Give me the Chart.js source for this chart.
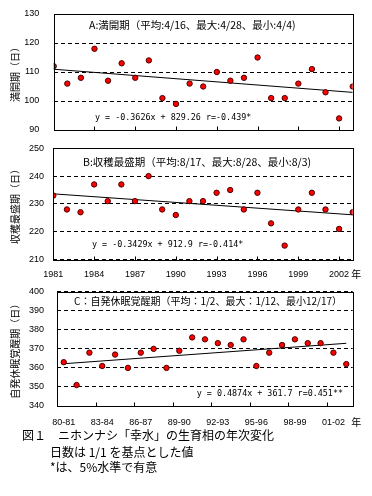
<!DOCTYPE html>
<html lang="ja">
<head>
<meta charset="utf-8">
<script src="https://cdn.jsdelivr.net/npm/chart.js@4.4.0/dist/chart.umd.min.js"></script>
<style>
    body { margin: 0; background: #fff; width: 372px; height: 496px; position: relative; overflow: hidden; }
    canvas { position: absolute; left: 0; }
    #chartA { top: 0; }
    #chartB { top: 140px; }
    #chartC { top: 282px; }
    .caption { position: absolute; font-family: "Noto Sans CJK JP", sans-serif; font-size: 12px; line-height: 16px; color: #000; white-space: nowrap; }
</style>
</head>
<body>
<canvas id="chartA" width="372" height="140"></canvas>
<canvas id="chartB" width="372" height="142"></canvas>
<canvas id="chartC" width="372" height="146"></canvas>
<div class="caption" style="left:22px; top:427px;">図１　ニホンナシ「幸水」の生育相の年次変化</div>
<div class="caption" style="left:50px; top:444px;">日数は 1/1 を基点とした値</div>
<div class="caption" style="left:50px; top:459px;">*は、5%水準で有意</div>
<script>
// ---- データ (1/1 を基点とした日数) ----
const years = [1981, 1982, 1983, 1984, 1985, 1986, 1987, 1988, 1989, 1990, 1991, 1992,
               1993, 1994, 1995, 1996, 1997, 1998, 1999, 2000, 2001, 2002, 2003];
const yearTicks = [1981, 1984, 1987, 1990, 1993, 1996, 1999, 2002];

// A: 満開期
const bloomDays = [112, 106, 108, 118, 107, 113, 108, 114, 101, 99, 106, 105,
                   110, 107, 108, 115, 101, 101, 106, 111, 103, 94, 105];
const bloomTicks = [90, 100, 110, 120, 130];
const bloomTrend = [-0.3626, 829.26];

// B: 収穫最盛期
const harvestDays = [233, 228, 227, 237, 231, 237, 231, 240, 228, 226, 231, 231,
                     234, 235, 228, 234, 223, 215, 228, 234, 228, 221, 227];
const harvestTicks = [210, 220, 230, 240, 250];
const harvestTrend = [-0.3429, 912.9];

// C: 自発休眠覚醒期
const seasons = ['80-81', '81-82', '82-83', '83-84', '84-85', '85-86', '86-87', '87-88',
                 '88-89', '89-90', '90-91', '91-92', '92-93', '93-94', '94-95', '95-96',
                 '96-97', '97-98', '98-99', '99-00', '00-01', '01-02', '02-03'];
const dormancyDays = [363, 351, 368, 361, 367, 360, 368, 370, 360, 369, 376, 375,
                      373, 372, 375, 361, 368, 372, 375, 373, 373, 368, 362];
const dormancyTicks = [340, 350, 360, 370, 380, 390, 400];
const dormancyTrend = [0.4874, 361.7];

const tickFont = { family: "'Liberation Sans', Arial, sans-serif", size: 9 };
const titleFont = { family: "'Noto Sans CJK JP', sans-serif", size: 10 };
const jpFont = "10px 'Noto Sans CJK JP', sans-serif";
const jpFontWide = "10.5px 'Noto Sans CJK JP', sans-serif";
const eqFont = "8.4px 'DejaVu Sans Mono', monospace";

// 枠線・内向き目盛・注記テキスト
const panelDecor = {
    id: 'panelDecor',
    afterDraw(chart, args, opts) {
        const { ctx, chartArea: a } = chart;
        const x = chart.scales.x;
        ctx.save();
        ctx.strokeStyle = '#000';
        ctx.lineWidth = 1;
        const l = Math.round(a.left) + 0.5, t = Math.round(a.top) + 0.5;
        const r = Math.round(a.right) + 0.5, b = Math.round(a.bottom) + 0.5;
        ctx.strokeRect(l, t, r - l, b - t);

        // 目盛（内向き）
        const marks = [];
        if (opts.marks === 'ticks') {
            x.ticks.forEach(tk => marks.push(x.getPixelForValue(tk.value)));
        } else if (opts.marks === 'between') {
            for (let i = 3; i < x.getLabels().length; i += 3) {
                marks.push((x.getPixelForValue(i - 1) + x.getPixelForValue(i)) / 2);
            }
        }
        ctx.beginPath();
        marks.forEach(px => {
            const p = Math.round(px) + 0.5;
            ctx.moveTo(p, b);
            ctx.lineTo(p, b - 4);
        });
        ctx.stroke();

        // テキスト
        ctx.fillStyle = '#000';
        ctx.textBaseline = 'middle';
        (opts.texts || []).forEach(item => {
            ctx.font = item.font;
            ctx.textAlign = item.align || 'left';
            const px = (item.x[0] === 'right' ? a.right : a.left) + item.x[1];
            const py = (item.y[0] === 'bottom' ? a.bottom : a.top) + item.y[1];
            ctx.fillText(item.text, px, py);
        });
        ctx.restore();
    }
};

function pointSet(data) {
    return {
        data: data,
        showLine: false,
        pointRadius: 2.7,
        pointBackgroundColor: '#ff0000',
        pointBorderColor: '#4a0000',
        pointBorderWidth: 1
    };
}

function trendSet(data) {
    return {
        data: data,
        showLine: true,
        borderColor: '#000',
        borderWidth: 1,
        pointRadius: 0,
        fill: false,
        tension: 0
    };
}

function yAxis(tickValues, title, tickPad, width) {
    return {
        min: tickValues[0],
        max: tickValues[tickValues.length - 1],
        afterBuildTicks: s => { s.ticks = tickValues.map(v => ({ value: v })); },
        ticks: { padding: tickPad, color: '#000', font: tickFont },
        grid: { color: '#000', lineWidth: 1, drawTicks: false },
        border: { display: false, dash: [4, 3] },
        title: { display: true, text: title, color: '#000', font: titleFont, padding: { top: 9.5, bottom: 0 } },
        afterFit: s => {
            s.width = width;
            // ラベルのはみ出し分でプロット領域を縮めない
            s.paddingTop = 0;
            s.paddingBottom = 0;
        }
    };
}

function yearAxis(showLabels, height, tickPad) {
    return {
        type: 'linear',
        min: years[0],
        max: years[years.length - 1],
        afterBuildTicks: s => { s.ticks = yearTicks.map(v => ({ value: v })); },
        ticks: {
            display: showLabels, padding: tickPad, color: '#000', font: tickFont,
            maxRotation: 0, autoSkip: false,
            callback: v => String(v)
        },
        grid: { display: false, drawTicks: false },
        border: { display: false },
        afterFit: s => { s.height = height; }
    };
}

function trendEnds(xs, coef, keys) {
    return [0, xs.length - 1].map(i => ({ x: keys[i], y: coef[0] * xs[i] + coef[1] }));
}

const common = {
    responsive: false,
    animation: false,
    devicePixelRatio: 1,
    plugins: { legend: { display: false }, tooltip: { enabled: false } }
};

// A: 満開期
new Chart(document.getElementById('chartA'), {
    type: 'scatter',
    data: {
        datasets: [
            pointSet(years.map((y, i) => ({ x: y, y: bloomDays[i] }))),
            trendSet(trendEnds(years, bloomTrend, years))
        ]
    },
    options: {
        ...common,
        layout: { padding: { top: 14, bottom: 10, left: 0, right: 19.3 } },
        scales: {
            x: yearAxis(false, 0, 0),
            y: yAxis(bloomTicks, '満開期（日）', 14.4, 53.7)
        },
        plugins: {
            ...common.plugins,
            panelDecor: {
                marks: 'ticks',
                texts: [
                    { text: 'A:満開期（平均:4/16、最大:4/28、最小:4/4)', x: ['left', 35.3], y: ['top', 11], font: jpFontWide },
                    { text: 'y = -0.3626x + 829.26 r=-0.439*', x: ['left', 41.3], y: ['bottom', -12], font: eqFont }
                ]
            }
        }
    },
    plugins: [panelDecor]
});

// B: 収穫最盛期
new Chart(document.getElementById('chartB'), {
    type: 'scatter',
    data: {
        datasets: [
            pointSet(years.map((y, i) => ({ x: y, y: harvestDays[i] }))),
            trendSet(trendEnds(years, harvestTrend, years))
        ]
    },
    options: {
        ...common,
        layout: { padding: { top: 8.3, bottom: 0, left: 0, right: 19.3 } },
        scales: {
            x: yearAxis(true, 22.5, 10),
            y: yAxis(harvestTicks, '収穫最盛期（日）', 9.3, 53.3)
        },
        plugins: {
            ...common.plugins,
            panelDecor: {
                marks: 'ticks',
                texts: [
                    { text: 'B:収穫最盛期（平均:8/17、最大:8/28、最小:8/3)', x: ['left', 29.7], y: ['top', 13.7], font: jpFontWide },
                    { text: 'y = -0.3429x + 912.9 r=-0.414*', x: ['left', 38.7], y: ['bottom', -14.5], font: eqFont },
                    { text: '年', x: ['right', -1.5], y: ['bottom', 15], font: jpFont }
                ]
            }
        }
    },
    plugins: [panelDecor]
});

// C: 自発休眠覚醒期
const seasonIdx = seasons.map((s, i) => i + 1);
new Chart(document.getElementById('chartC'), {
    type: 'line',
    data: {
        labels: seasons,
        datasets: [
            pointSet(dormancyDays),
            trendSet(trendEnds(seasonIdx, dormancyTrend, seasons))
        ]
    },
    options: {
        ...common,
        layout: { padding: { top: 9.7, bottom: 0, left: 0, right: 19.3 } },
        scales: {
            x: {
                type: 'category',
                offset: true,
                ticks: {
                    padding: 11, color: '#000', font: tickFont, maxRotation: 0, autoSkip: false,
                    callback: (v, i) => (i % 3 === 0 ? seasons[i] : '')
                },
                grid: { display: false, drawTicks: false },
                border: { display: false },
                afterFit: s => { s.height = 22; }
            },
            y: yAxis(dormancyTicks, '自発休眠覚醒期（日）', 13.3, 57.3)
        },
        plugins: {
            ...common.plugins,
            panelDecor: {
                marks: 'between',
                texts: [
                    { text: 'C：自発休眠覚醒期（平均：1/2、最大：1/12、最小12/17）', x: ['left', 16.7], y: ['top', 10], font: jpFont },
                    { text: 'y = 0.4874x + 361.7 r=0.451**', x: ['right', -9.7], y: ['bottom', -12], font: eqFont, align: 'right' },
                    { text: '年', x: ['right', -1.5], y: ['bottom', 16.3], font: jpFont }
                ]
            }
        }
    },
    plugins: [panelDecor]
});
</script>
</body>
</html>
